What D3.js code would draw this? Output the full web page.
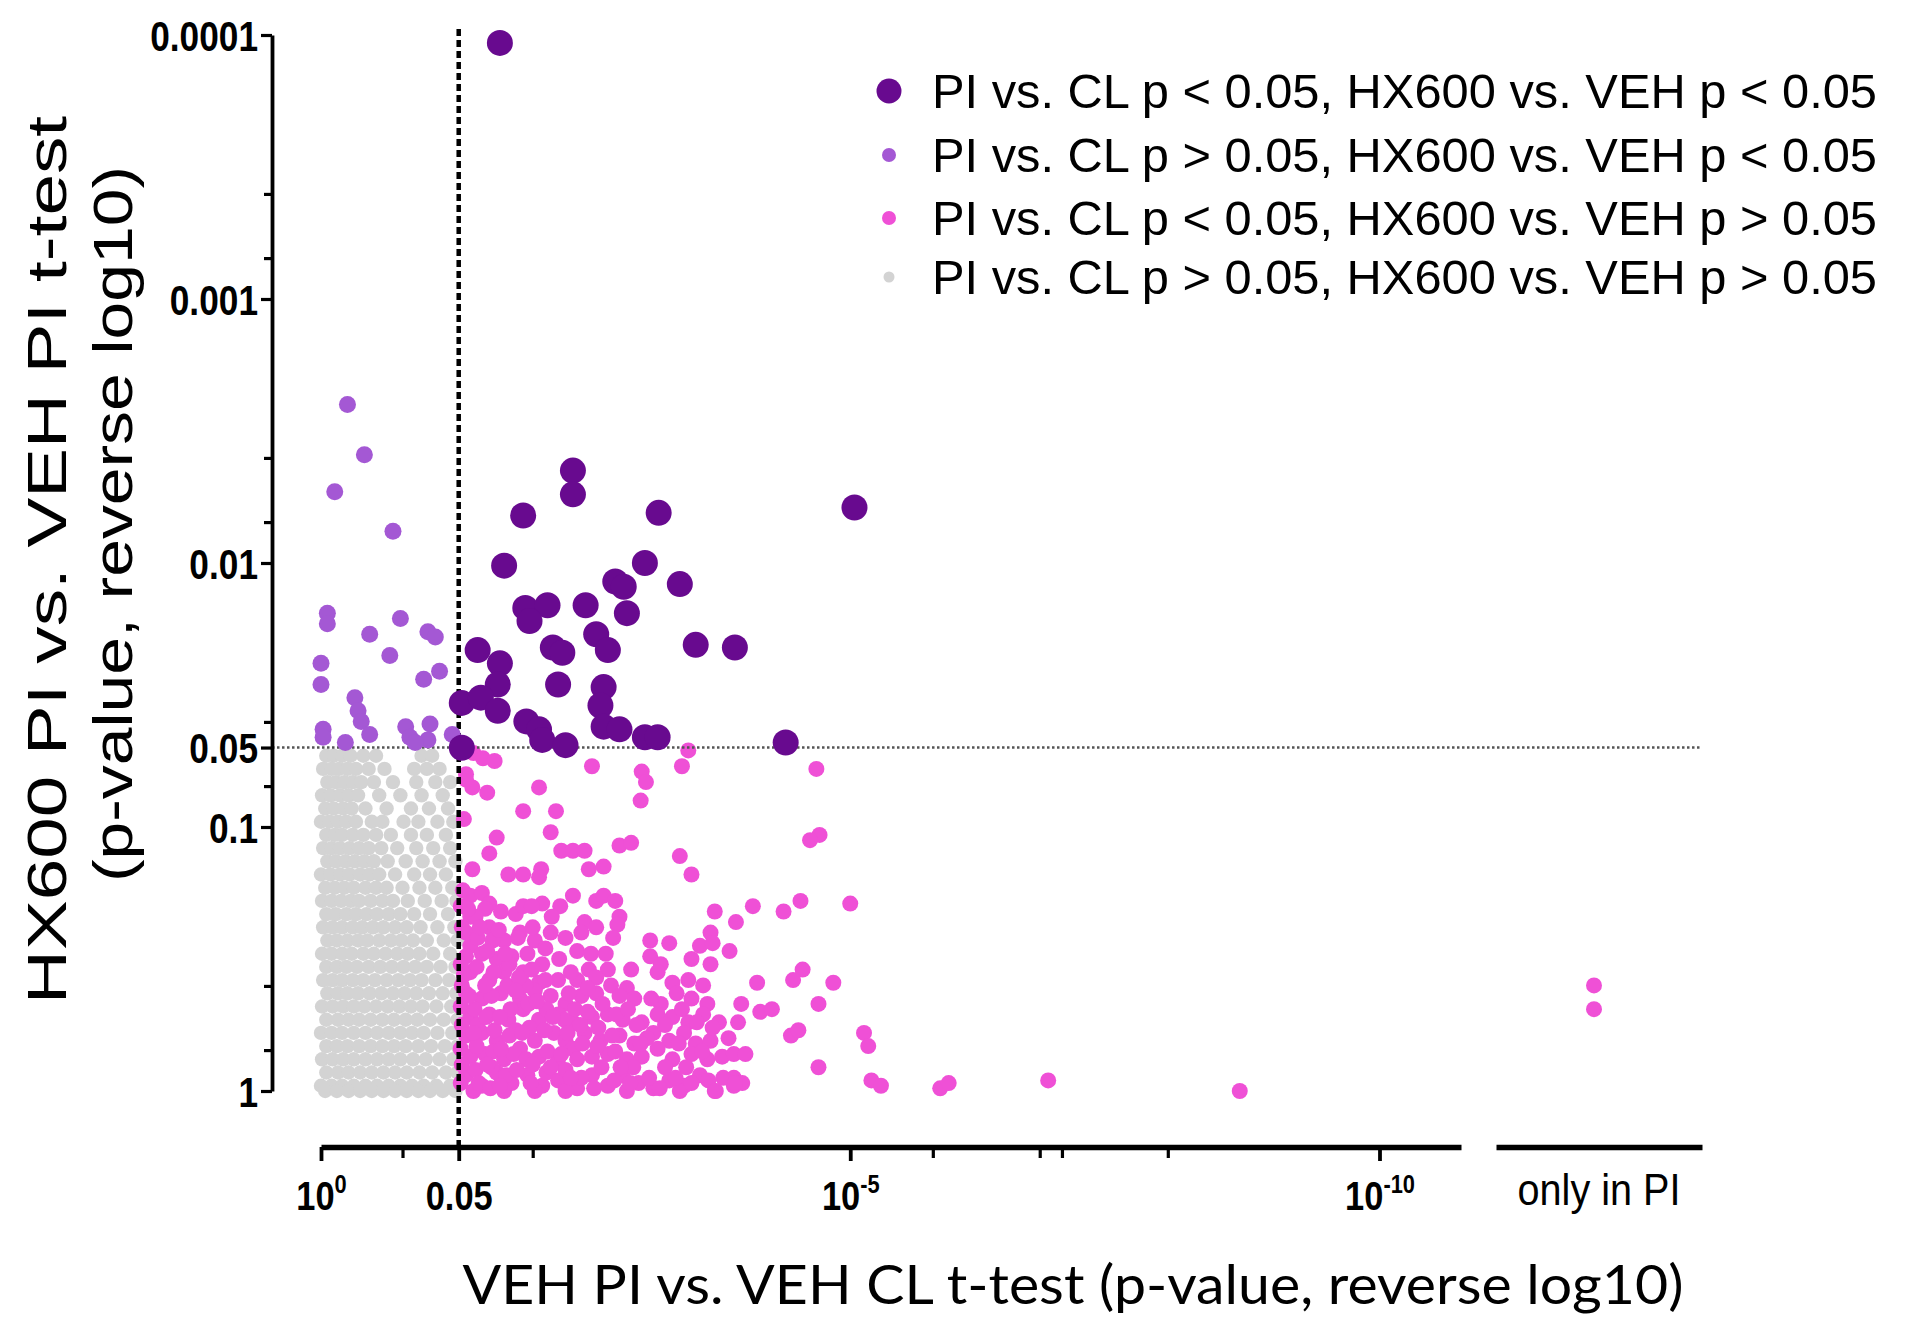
<!DOCTYPE html>
<html><head><meta charset="utf-8">
<script src="https://cdn.jsdelivr.net/npm/d3@7"></script>
<style>html,body{margin:0;padding:0;background:#fff;}svg{display:block;}</style>
</head><body>
<svg id="chart" width="1920" height="1335"></svg>
<script>
// All values are -log10(p)
const xTickValues = [0, 1.301, 5, 10];
const xTickBase = ["10", "0.05", "10", "10"];
const xTickSup = ["0", "", "-5", "-10"];
const xMinorTicks = [0.77, 2, 5.78, 6.79, 7, 8];
const yTickValues = [0, 1, 1.301, 2, 3, 4];
const yTickLabels = ["1", "0.1", "0.05", "0.01", "0.001", "0.0001"];
const yMinorTicks = [0.155, 0.398, 1.155, 1.398, 2.155, 2.398, 3.155, 3.398];
const cutoff = 1.301;
const onlyCategory = ["only in PI"];

const legendLabels = [
  "PI vs. CL p < 0.05, HX600 vs. VEH p < 0.05",
  "PI vs. CL p > 0.05, HX600 vs. VEH p < 0.05",
  "PI vs. CL p < 0.05, HX600 vs. VEH p > 0.05",
  "PI vs. CL p > 0.05, HX600 vs. VEH p > 0.05"
];

const darkPts = [[1.69,3.97],[2.38,2.35],[2.38,2.26],[1.91,2.18],[3.19,2.19],[5.04,2.21],[1.73,1.99],[3.06,2.00],[2.78,1.93],[2.86,1.91],[3.39,1.92],[1.93,1.83],[2.14,1.84],[1.97,1.78],[2.50,1.84],[2.89,1.81],[2.60,1.73],[2.71,1.67],[2.19,1.68],[2.28,1.66],[2.24,1.54],[3.54,1.69],[3.91,1.68],[1.48,1.67],[1.69,1.62],[1.67,1.54],[1.33,1.47],[1.51,1.49],[1.67,1.44],[1.94,1.40],[2.06,1.37],[2.09,1.33],[2.31,1.31],[2.67,1.53],[2.64,1.46],[2.67,1.38],[2.82,1.37],[3.06,1.34],[3.18,1.34],[4.39,1.32],[1.33,1.30]];

const mediumPts = [[0.25,2.60],[0.41,2.41],[0.13,2.27],[0.68,2.12],[0.06,1.81],[0.06,1.77],[0.75,1.79],[0.46,1.73],[1.01,1.74],[1.08,1.72],[0.00,1.62],[0.00,1.54],[0.65,1.65],[1.12,1.59],[0.97,1.56],[0.32,1.49],[0.35,1.44],[0.38,1.40],[0.46,1.35],[0.02,1.37],[0.02,1.34],[0.23,1.32],[0.80,1.38],[0.84,1.34],[1.03,1.39],[1.01,1.33],[1.24,1.35],[0.89,1.32]];

const pinkPts = [[1.44,1.28],[1.53,1.26],[1.64,1.25],[3.47,1.29],
[2.56,1.23],[3.41,1.23],[3.03,1.21],[4.68,1.22],[1.37,1.20],
[1.43,1.15],[1.57,1.13],[2.06,1.15],[3.07,1.17],[1.37,1.18],
[3.02,1.10],[1.91,1.06],[2.22,1.06],[1.35,1.03],
[2.17,0.98],[1.66,0.96],[4.71,0.97],[4.62,0.95],
[1.59,0.90],[2.27,0.91],[2.38,0.91],[2.49,0.91],[2.82,0.93],[2.93,0.94],[3.39,0.89],
[1.43,0.84],[1.77,0.82],[1.91,0.82],[2.08,0.84],[2.06,0.81],[2.53,0.84],[2.67,0.85],[3.50,0.82],
[1.34,0.76],[1.41,0.74],[1.52,0.75],[1.59,0.71],[2.09,0.71],[2.26,0.70],[2.38,0.74],[2.60,0.72],[2.67,0.74],[2.78,0.72],[3.72,0.68],[4.08,0.70],[4.37,0.68],[4.53,0.72],[5.00,0.71],
[1.41,0.66],[1.55,0.69],[1.70,0.68],[1.84,0.67],[1.91,0.70],[1.99,0.70],[2.82,0.66],[3.68,0.60],[3.92,0.64],[2.49,0.64],[2.60,0.62],[2.80,0.63],
[1.37,0.60],[1.59,0.62],[1.73,0.57],[1.88,0.60],[2.02,0.57],[2.17,0.60],[2.46,0.60],[3.11,0.57],[3.29,0.56],[3.58,0.55],[3.70,0.56],[3.86,0.53],[1.41,0.55],
[1.37,0.51],[1.52,0.52],[1.66,0.50],[1.80,0.51],[1.95,0.52],[2.09,0.48],[2.42,0.53],[3.11,0.51],[3.21,0.48],[3.50,0.50],[3.68,0.48],[4.55,0.46],[2.53,0.46],[2.71,0.46],[2.93,0.46],
[1.41,0.45],[1.59,0.42],[1.73,0.45],[1.91,0.45],[2.06,0.41],[2.24,0.42],[2.42,0.42],[2.60,0.43],[2.74,0.40],[2.89,0.39],[3.18,0.45],[3.32,0.41],[3.47,0.42],[3.61,0.40],[4.12,0.41],[4.46,0.42],[4.84,0.41],
[1.37,0.37],[1.52,0.35],[1.70,0.37],[1.88,0.35],[2.02,0.38],[2.17,0.36],[2.31,0.33],[2.46,0.36],[2.60,0.37],[2.82,0.36],[2.96,0.35],[3.21,0.33],[3.36,0.37],[3.50,0.35],[3.65,0.33],[3.97,0.33],[4.70,0.33],[4.15,0.30],[4.26,0.31],
[1.41,0.28],[1.59,0.29],[1.77,0.27],[1.91,0.31],[2.06,0.27],[2.24,0.29],[2.38,0.26],[2.56,0.28],[2.71,0.29],[2.85,0.27],[3.03,0.26],[3.18,0.29],[3.32,0.28],[3.47,0.26],[3.61,0.29],[3.76,0.26],[3.94,0.26],[4.44,0.21],[4.51,0.23],
[1.37,0.21],[1.52,0.22],[1.66,0.19],[1.84,0.23],[2.02,0.19],[2.20,0.22],[2.31,0.19],[2.49,0.22],[2.64,0.19],[2.82,0.21],[2.96,0.18],[3.14,0.22],[3.29,0.19],[3.43,0.22],[3.54,0.18],[3.68,0.19],[5.13,0.22],[5.17,0.17],
[1.41,0.13],[1.55,0.14],[1.73,0.12],[1.88,0.16],[2.06,0.13],[2.24,0.12],[2.38,0.16],[2.56,0.13],[2.71,0.14],[2.89,0.12],[3.03,0.13],[3.18,0.16],[3.32,0.12],[3.50,0.14],[3.65,0.12],[3.79,0.13],[3.90,0.14],[4.01,0.14],[4.70,0.09],
[1.37,0.06],[1.52,0.02],[1.66,0.07],[1.80,0.03],[1.95,0.06],[2.09,0.02],[2.24,0.04],[2.42,0.01],[2.56,0.06],[2.71,0.02],[2.85,0.06],[3.00,0.03],[3.14,0.01],[3.29,0.04],[3.43,0.02],[3.58,0.06],[3.72,0.00],[3.90,0.02],[3.90,0.05],[5.20,0.04],[5.29,0.02],[1.44,0.00],[1.73,0.00],[2.02,0.00],[2.31,0.00],[2.89,0.00],[3.39,0.00],
[1.32,0.70],[1.33,0.62],[1.32,0.48],[1.33,0.40],[1.32,0.32],[1.33,0.25],[1.32,0.16],[1.33,0.10],[1.32,0.03],[1.46,0.66],[1.48,0.58],[1.47,0.47],[1.45,0.31],[1.48,0.25],[1.47,0.17],[1.46,0.08],[1.49,0.03],[1.62,0.57],[1.63,0.45],[1.61,0.36],[1.64,0.23],[1.63,0.15],[1.61,0.09],[1.60,0.01],[1.78,0.48],[1.76,0.40],[1.79,0.31],[1.78,0.21],[1.75,0.06],[1.82,0.14],[1.93,0.40],[1.96,0.33],[1.97,0.24],[1.94,0.12],[1.98,0.03],[2.12,0.42],[2.13,0.31],[2.11,0.23],[2.14,0.15],[2.13,0.07],[2.30,0.27],[2.33,0.22],[2.31,0.08],[2.45,0.25],[2.47,0.18],[2.46,0.05],[2.62,0.24],[2.65,0.09],[2.78,0.15],[2.77,0.04],[2.95,0.09],[3.10,0.05],[3.25,0.09],[3.45,0.09],[3.60,0.15],[3.80,0.05],[3.98,0.03],
[1.39,0.69],[1.50,0.62],[1.57,0.53],[1.68,0.61],[1.74,0.52],[1.86,0.58],[1.87,0.43],[1.99,0.46],[2.00,0.62],[2.12,0.54],[2.18,0.66],[2.25,0.50],[2.31,0.58],[2.36,0.45],[2.34,0.37],[2.40,0.31],[2.52,0.39],[2.55,0.52],[2.66,0.33],[2.69,0.52],[2.76,0.58],[2.79,0.29],[2.90,0.31],[2.98,0.25],[3.08,0.20],[3.12,0.35],[3.25,0.25],[3.38,0.18],[3.41,0.31],[3.55,0.26],[3.70,0.24],[3.85,0.20],[1.35,0.44],[1.40,0.36],[1.44,0.22],[1.55,0.40],[1.56,0.28],[1.57,0.10],[1.69,0.28],[1.70,0.16],[1.69,0.02],[1.84,0.38],[1.85,0.08],[1.90,0.22],[2.00,0.10],[2.04,0.34],[2.17,0.09],[2.19,0.28],[2.27,0.14],[2.36,0.05],[2.42,0.12],[2.52,0.30],[2.58,0.01],[2.61,0.17],[2.75,0.21],[2.83,0.09],[2.92,0.03],[3.02,0.18],[3.20,0.01],[3.35,0.05],[3.50,0.03],[3.66,0.04],
[5.85,0.01],[5.93,0.03],[6.87,0.04],[8.68,0.00],[3.73,0.00],[3.91,0.03]];

const onlyInPIPink = [0.40, 0.31];

const grayRows = [
[1.27,[0.05,0.12,0.20,0.28,0.40,0.52,0.95,1.05]],
[1.22,[0.02,0.10,0.17,0.25,0.33,0.45,0.60,0.88,1.00,1.12]],
[1.17,[0.06,0.14,0.22,0.30,0.38,0.50,0.68,0.90,1.08,1.22]],
[1.12,[0.01,0.09,0.18,0.26,0.35,0.55,0.75,0.95,1.15]],
[1.07,[0.04,0.12,0.21,0.29,0.42,0.62,0.85,1.02,1.20]],
[1.02,[0.00,0.08,0.16,0.24,0.33,0.48,0.58,0.78,0.92,1.10,1.25]],
[0.97,[0.05,0.13,0.20,0.30,0.40,0.52,0.66,0.85,1.00,1.18]],
[0.92,[0.02,0.10,0.18,0.27,0.36,0.45,0.57,0.72,0.90,1.06,1.22]],
[0.87,[0.06,0.14,0.23,0.32,0.41,0.50,0.63,0.80,0.96,1.12,1.27]],
[0.82,[0.00,0.09,0.18,0.27,0.37,0.46,0.55,0.70,0.88,1.03,1.18]],
[0.77,[0.04,0.13,0.22,0.31,0.42,0.52,0.62,0.77,0.93,1.08,1.24]],
[0.72,[0.01,0.10,0.19,0.28,0.36,0.47,0.58,0.68,0.82,0.98,1.14,1.28]],
[0.67,[0.05,0.14,0.24,0.33,0.43,0.53,0.64,0.75,0.88,1.03,1.20]],
[0.62,[0.02,0.11,0.20,0.30,0.39,0.49,0.59,0.70,0.81,0.94,1.10,1.26]],
[0.57,[0.06,0.15,0.25,0.35,0.44,0.55,0.66,0.76,0.87,1.00,1.16,1.29]],
[0.52,[0.01,0.10,0.20,0.29,0.40,0.50,0.61,0.72,0.82,0.93,1.06,1.22]],
[0.47,[0.05,0.15,0.24,0.34,0.45,0.56,0.67,0.78,0.89,1.00,1.13,1.27]],
[0.42,[0.02,0.11,0.20,0.30,0.40,0.51,0.62,0.73,0.84,0.95,1.08,1.21]],
[0.37,[0.06,0.16,0.25,0.35,0.46,0.57,0.68,0.79,0.90,1.02,1.15,1.28]],
[0.32,[0.01,0.11,0.21,0.31,0.41,0.52,0.63,0.74,0.85,0.96,1.09,1.23]],
[0.27,[0.05,0.16,0.26,0.36,0.47,0.58,0.69,0.80,0.91,1.03,1.16,1.29]],
[0.22,[0.00,0.10,0.20,0.31,0.42,0.53,0.64,0.75,0.86,0.97,1.10,1.24]],
[0.17,[0.05,0.15,0.25,0.36,0.47,0.58,0.69,0.80,0.92,1.04,1.17,1.29]],
[0.12,[0.01,0.11,0.21,0.31,0.42,0.53,0.64,0.75,0.87,0.99,1.12,1.25]],
[0.07,[0.05,0.16,0.26,0.37,0.48,0.59,0.70,0.81,0.93,1.05,1.18,1.29]],
[0.02,[0.00,0.10,0.20,0.31,0.42,0.53,0.64,0.75,0.86,0.97,1.09,1.22]],
[0.00,[0.04,0.15,0.26,0.37,0.48,0.59,0.70,0.81,0.92,1.03,1.15,1.27]]
];
const grayPts = grayRows.flatMap(([yv, xs]) => xs.map(xv => [xv, yv]));

// ---------- drawing ----------
const C = { dark: "#680a8f", medium: "#a458d4", pink: "#ef50d6", gray: "#d3d3d3" };
const R = { dark: 13, medium: 8.5, pink: 8, gray: 7.2 };
const svg = d3.select("#chart");
const FONT = "'Liberation Sans', Arial, Helvetica, sans-serif";

const x = d3.scaleLinear().domain([0, 10.77]).range([321, 1461]);
const y = d3.scaleLinear().domain([0, 4]).range([1091, 35]);
const xOnly = d3.scaleBand().domain(onlyCategory).range([1496, 1702]);
const axisY0 = 1147, axisX0 = 272;

function dots(data, color, r) {
  svg.append("g").selectAll("circle").data(data).join("circle")
    .attr("cx", d => x(d[0])).attr("cy", d => y(d[1])).attr("r", r).attr("fill", color);
}
dots(grayPts, C.gray, R.gray);
dots(pinkPts, C.pink, R.pink);
svg.append("g").selectAll("circle").data(onlyInPIPink).join("circle")
  .attr("cx", xOnly(onlyCategory[0]) + xOnly.bandwidth() / 2 - 5)
  .attr("cy", d => y(d)).attr("r", R.pink).attr("fill", C.pink);

// threshold lines
svg.append("line").attr("x1", axisX0).attr("x2", 1700).attr("y1", y(cutoff)).attr("y2", y(cutoff))
  .attr("stroke", "#555").attr("stroke-width", 2.5).attr("stroke-dasharray", "2.5,2.5");
svg.append("line").attr("x1", x(cutoff)).attr("x2", x(cutoff)).attr("y1", y.range()[1] - 6).attr("y2", axisY0)
  .attr("stroke", "#000").attr("stroke-width", 4.5).attr("stroke-dasharray", "7,4");

dots(mediumPts, C.medium, R.medium);
dots(darkPts, C.dark, R.dark);

// y axis
const yAx = svg.append("g").attr("transform", `translate(${axisX0},0)`)
  .call(d3.axisLeft(y).tickValues(yTickValues).tickFormat((d, i) => yTickLabels[i]).tickSize(11).tickSizeOuter(0).tickPadding(4));
yAx.select(".domain").attr("stroke-width", 3.8);
yAx.selectAll(".tick line").attr("stroke-width", 3.2);
yAx.selectAll(".tick text").attr("font-family", FONT).attr("font-weight", "bold").attr("font-size", 42)
  .attr("fill", "#000").attr("x", 0).attr("dy", "0.36em")
  .attr("transform", "translate(-14,0) scale(0.84,1)");
const yMin = svg.append("g").attr("transform", `translate(${axisX0},0)`)
  .call(d3.axisLeft(y).tickValues(yMinorTicks).tickFormat("").tickSize(8).tickSizeOuter(0));
yMin.select(".domain").remove();
yMin.selectAll(".tick line").attr("stroke-width", 3.2);

// x axis
const xAx = svg.append("g").attr("transform", `translate(0,${axisY0})`)
  .call(d3.axisBottom(x).tickValues(xTickValues).tickFormat("").tickSize(14).tickSizeOuter(0));
xAx.select(".domain").attr("stroke-width", 5.5);
xAx.selectAll(".tick line").attr("stroke-width", 3.8);
xAx.selectAll(".tick text").each(function (d, i) {
  const t = d3.select(this).text(null).attr("y", 63).attr("dy", 0)
    .attr("font-family", FONT).attr("font-weight", "bold").attr("font-size", 41).attr("fill", "#000")
    .attr("transform", "scale(0.84,1)");
  t.append("tspan").text(xTickBase[i]);
  if (xTickSup[i]) t.append("tspan").attr("dy", -17).attr("font-size", 26).text(xTickSup[i]);
});
const xMin = svg.append("g").attr("transform", `translate(0,${axisY0})`)
  .call(d3.axisBottom(x).tickValues(xMinorTicks).tickFormat("").tickSize(11).tickSizeOuter(0));
xMin.select(".domain").remove();
xMin.selectAll(".tick line").attr("stroke-width", 3.2);

const xAx2 = svg.append("g").attr("transform", `translate(0,${axisY0})`)
  .call(d3.axisBottom(xOnly).tickSize(0).tickSizeOuter(0));
xAx2.select(".domain").attr("stroke-width", 5.5);
xAx2.selectAll(".tick text").attr("y", 58).attr("dy", 0).attr("font-family", FONT).attr("font-size", 45)
  .attr("fill", "#000").attr("transform", "scale(0.88,1)");

// axis titles
svg.append("text").attr("transform", "translate(1073,1304)").attr("text-anchor", "middle")
  .attr("font-family", "Lato, 'Open Sans', sans-serif").attr("font-size", 55).attr("fill", "#000")
  .attr("textLength", 1221).attr("lengthAdjust", "spacingAndGlyphs")
  .text("VEH PI vs. VEH CL t-test (p-value, reverse log10)");
svg.append("text").attr("transform", "translate(66,560) rotate(-90)").attr("text-anchor", "middle")
  .attr("font-family", FONT).attr("font-size", 56).attr("fill", "#000")
  .attr("textLength", 888).attr("lengthAdjust", "spacingAndGlyphs")
  .text("HX600 PI vs. VEH PI t-test");
svg.append("text").attr("transform", "translate(132,524) rotate(-90)").attr("text-anchor", "middle")
  .attr("font-family", FONT).attr("font-size", 56).attr("fill", "#000")
  .attr("textLength", 716).attr("lengthAdjust", "spacingAndGlyphs")
  .text("(p-value, reverse log10)");

// legend
const legColors = [C.dark, C.medium, C.pink, C.gray];
const legR = [12.5, 7, 7, 5.5];
const legY = [108, 172, 235, 294];
const leg = svg.append("g");
legendLabels.forEach((lab, i) => {
  leg.append("circle").attr("cx", 889).attr("cy", legY[i] - 17).attr("r", legR[i]).attr("fill", legColors[i]);
  leg.append("text").attr("x", 932).attr("y", legY[i]).attr("font-family", FONT).attr("font-size", 48)
    .attr("fill", "#000").attr("textLength", 945).attr("lengthAdjust", "spacingAndGlyphs").text(lab);
});
</script>
</body></html>
